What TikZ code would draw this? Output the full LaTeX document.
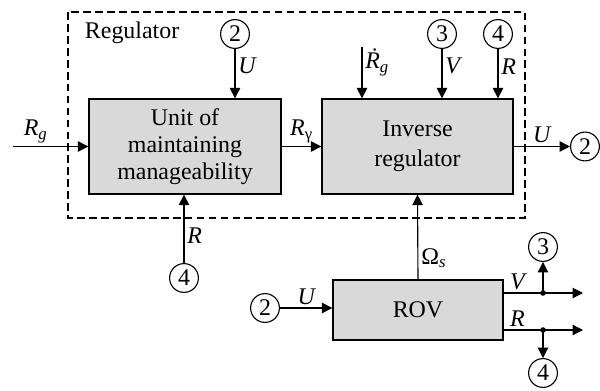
\documentclass[tikz,border=0pt]{standalone}
\usepackage{fontspec}
\setmainfont{Liberation Serif}
\usepackage{tikz}
\usetikzlibrary{positioning,calc,arrows.meta}

\begin{document}
\begin{tikzpicture}[x=0.025cm, y=-0.025cm, font=\fontsize{17}{19}\selectfont]
	\definecolor{blockgray}{RGB}{217,217,217}
	\tikzset{
		block/.style={draw, line width=0.9pt, fill=blockgray, align=center, inner sep=0pt},
		portnode/.style={circle, draw, line width=0.8pt, minimum size=0.72cm, inner sep=0pt},
		sig/.style={line width=0.8pt, -{Triangle[length=2.6mm, width=2.6mm]}},
		wire/.style={line width=0.8pt},
		lbl/.style={inner sep=2pt, font=\fontsize{17}{19}\selectfont\itshape},
		junction/.style={circle, fill, inner sep=0pt, minimum size=1.4mm}
	}
	\useasboundingbox (0,0) rectangle (600,390);
	
	% Regulator frame
	\draw[line width=0.8pt, dash pattern=on 5.5pt off 3pt] (68,12) rectangle (525,218);
	\node[anchor=west] (regtitle) at (80,33) {Regulator};
	
	\node[block, minimum width=4.8cm, minimum height=2.375cm] (unit) at (185,146.5) {Unit of\\maintaining\\manageability};
	\node[block, minimum width=4.775cm, minimum height=2.375cm, font=\fontsize{17}{21}\selectfont] (inv) at (417.5,146.5) {Inverse\\regulator};
	\node[block, minimum width=4.25cm, minimum height=1.5cm] (rov) at (418,310) {ROV};
	
	\node[portnode] (c2a) at (235,34) {2};
	\node[portnode] (c3a) at (442,34) {3};
	\node[portnode] (c4a) at (498,34) {4};
	\node[portnode] (c2b) at (585,146.5) {2};
	\node[portnode] (c4b) at (184,278) {4};
	\node[portnode] (c2c) at (265,308) {2};
	\node[portnode] (c3b) at (543,247) {3};
	\node[portnode] (c4c) at (543,373) {4};
	
	\coordinate (rgin) at (13,146.5);
	\coordinate (rdin) at (362,47);
	\coordinate (vjoin) at (543,293);
	\coordinate (rjoin) at (543,330);
	\coordinate (vend) at (583,293);
	\coordinate (rend) at (583,330);
	
	\draw[sig] (rgin) -- node[lbl, above, pos=0.3] {R\textsubscript{g}} (unit.west);
	\draw[sig] (unit.east) -- node[lbl, above] {R\textsubscript{\upshape γ}} (inv.west);
	\draw[sig] (inv.east) -- node[lbl, above] {U} (c2b);
	\draw[sig] (c2a) -- node[lbl, right, pos=0.35] {U} (c2a |- unit.north);
	\draw[sig] (rdin) -- node[lbl, right, pos=0.3] {\.{R}\textsubscript{g}} (rdin |- inv.north);
	\draw[sig] (c3a) -- node[lbl, right, pos=0.35] {V} (c3a |- inv.north);
	\draw[sig] (c4a) -- node[lbl, right, pos=0.35] {R} (c4a |- inv.north);
	\draw[sig] (c4b) -- node[lbl, right, pos=0.4] {R} (c4b |- unit.south);
	\draw[sig] (rov.north) -- node[lbl, right, pos=0.25] {\upshape Ω\textsubscript{\itshape s}} (inv.south);
	\draw[sig] (c2c) -- node[lbl, above] {U} (c2c -| rov.west);
	
	\draw[wire] (rov.east |- vjoin) -- node[lbl, above, pos=0.35] {V} (vjoin);
	\draw[sig] (vjoin) -- (vend);
	\draw[sig] (vjoin) -- (c3b);
	\node[junction] at (vjoin) {};
	\draw[wire] (rov.east |- rjoin) -- node[lbl, above, pos=0.35] {R} (rjoin);
	\draw[sig] (rjoin) -- (rend);
	\draw[sig] (rjoin) -- (c4c);
	\node[junction] at (rjoin) {};
\end{tikzpicture}
\end{document}
